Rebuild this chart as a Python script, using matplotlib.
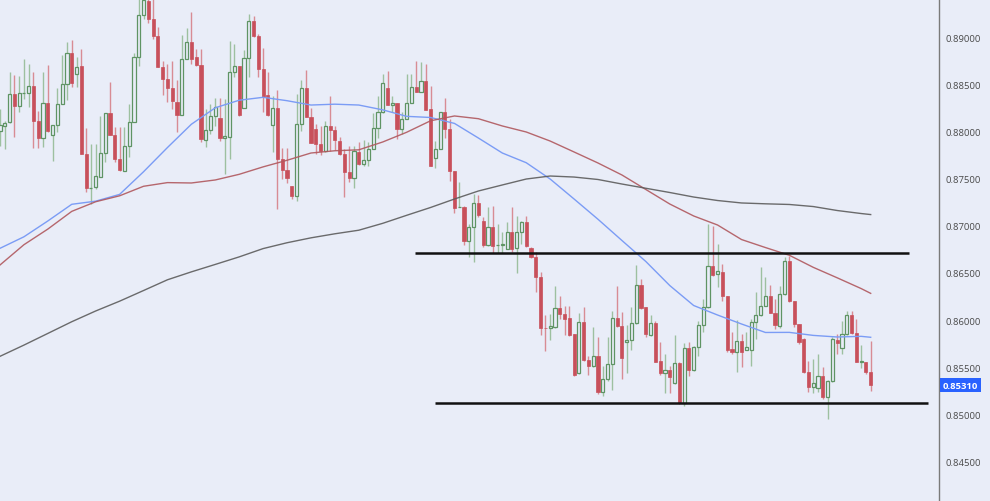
import matplotlib
matplotlib.use("Agg")
import matplotlib.pyplot as plt
import matplotlib.transforms as mtransforms
import numpy as np

# ---------------- data ----------------
opens = [0.88006,0.88059,0.88101,0.88398,0.88271,0.88409,0.88409,0.88483,0.88112,0.87931,
         0.88303,0.87963,0.88069,0.88292,0.88504,0.88833,0.88610,0.88695,0.87761,0.87401,
         0.87411,0.87517,0.87772,0.88197,0.87963,0.87708,0.87581,0.87846,0.88101,0.88791,
         0.89236,0.89385,0.89194,0.89013,0.88685,0.88557,0.88462,0.88313,0.88175,0.88769,
         0.88950,0.88791,0.88706,0.87910,0.88016,0.88165,0.88143,0.87931,0.87942,0.88632,
         0.88695,0.88250,0.88780,0.89173,0.89013,0.88663,0.88387,0.88069,0.88250,0.87708,
         0.87592,0.87422,0.87316,0.88080,0.88462,0.88154,0.88027,0.87868,0.87793,0.88059,
         0.88016,0.87899,0.87761,0.87571,0.87507,0.87783,0.87655,0.87698,0.87815,0.88037,
         0.88207,0.88462,0.88281,0.88303,0.88027,0.88133,0.88303,0.88472,0.88419,0.88536,
         0.88239,0.87719,0.87815,0.88207,0.88027,0.87581,0.87199,0.87199,0.86838,0.86987,
         0.87242,0.87051,0.86796,0.86987,0.86796,0.86796,0.86754,0.86934,0.86764,0.86934,
         0.87040,0.86764,0.86669,0.86456,0.85915,0.85915,0.85926,0.86128,0.86064,0.86021,
         0.85851,0.85438,0.85979,0.85576,0.85512,0.85618,0.85236,0.85374,0.85533,0.86021,
         0.85937,0.85767,0.85788,0.85968,0.86372,0.86138,0.85841,0.85968,0.85565,0.85438,
         0.85470,0.85332,0.85544,0.85120,0.85703,0.85470,0.85714,0.85947,0.86138,0.86573,
         0.86488,0.86509,0.86255,0.85693,0.85661,0.85777,0.85682,0.85682,0.85979,0.86053,
         0.86149,0.86255,0.86074,0.85937,0.86276,0.86626,0.86202,0.85958,0.85799,0.85448,
         0.85289,0.85279,0.85406,0.85183,0.85353,0.85788,0.85703,0.85852,0.86053,0.85862,
         0.85555,0.85555,0.85448]
highs = [0.88239,0.88112,0.88632,0.88600,0.88589,0.88769,0.88716,0.88632,0.88218,0.88632,
         0.88706,0.88072,0.88462,0.88812,0.88950,0.88971,0.88791,0.88876,0.88037,0.87868,
         0.87868,0.88165,0.88200,0.88525,0.88048,0.88048,0.88048,0.88292,0.88833,0.89406,
         0.89500,0.89450,0.89406,0.89109,0.88748,0.88716,0.88748,0.88547,0.89024,0.89098,
         0.89268,0.88876,0.88876,0.88239,0.88292,0.88356,0.88356,0.88345,0.88960,0.88929,
         0.88698,0.88865,0.89247,0.89226,0.89035,0.88886,0.88632,0.88377,0.88441,0.87825,
         0.87825,0.87425,0.88398,0.88547,0.88653,0.88250,0.88080,0.88059,0.88112,0.88377,
         0.88059,0.87942,0.87815,0.87846,0.87846,0.87889,0.87910,0.87889,0.88197,0.88377,
         0.88610,0.88642,0.88377,0.88306,0.88207,0.88610,0.88610,0.88748,0.88738,0.88716,
         0.88483,0.87899,0.88210,0.88356,0.88133,0.87584,0.87464,0.87205,0.87019,0.87337,
         0.87326,0.87093,0.87199,0.87210,0.87019,0.86934,0.87040,0.87199,0.87104,0.87051,
         0.87104,0.86770,0.86722,0.86509,0.86053,0.86064,0.86361,0.86255,0.86149,0.86149,
         0.85855,0.86074,0.86138,0.85618,0.85926,0.85820,0.85512,0.85820,0.86096,0.86361,
         0.86085,0.85947,0.86138,0.86584,0.86435,0.86142,0.86053,0.85990,0.85767,0.85639,
         0.85512,0.85841,0.85550,0.85756,0.85767,0.85720,0.85990,0.86223,0.87019,0.86998,
         0.86807,0.86594,0.86260,0.85873,0.86000,0.85852,0.85873,0.86011,0.86297,0.86563,
         0.86456,0.86372,0.86223,0.86361,0.86669,0.86679,0.86205,0.85960,0.85805,0.85565,
         0.85586,0.85639,0.85502,0.85360,0.85820,0.85852,0.85990,0.86096,0.86096,0.86011,
         0.85735,0.85560,0.85777]
lows = [0.87846,0.87815,0.88090,0.87942,0.88207,0.88345,0.88260,0.87825,0.87825,0.87836,
        0.88000,0.87687,0.87995,0.88290,0.88334,0.88472,0.88472,0.87758,0.87358,0.87231,
        0.87390,0.87515,0.87677,0.87960,0.87677,0.87581,0.87578,0.87730,0.88098,0.88695,
        0.89194,0.89151,0.88982,0.88682,0.88387,0.88313,0.88239,0.87995,0.88170,0.88765,
        0.88716,0.88700,0.87889,0.87836,0.87974,0.88059,0.87899,0.87549,0.87708,0.88578,
        0.88165,0.88245,0.88578,0.89003,0.88578,0.88207,0.88165,0.87783,0.87178,0.87496,
        0.87454,0.87284,0.87263,0.88006,0.88150,0.87875,0.87761,0.87751,0.87783,0.87793,
        0.87804,0.87755,0.87305,0.87464,0.87401,0.87650,0.87634,0.87634,0.87810,0.87931,
        0.88200,0.88278,0.88207,0.87921,0.87974,0.88130,0.88300,0.88415,0.88415,0.88225,
        0.87630,0.87613,0.87810,0.87931,0.87475,0.87135,0.87195,0.86796,0.86669,0.86616,
        0.87093,0.86775,0.86785,0.86711,0.86711,0.86711,0.86750,0.86722,0.86499,0.86807,
        0.86780,0.86660,0.86297,0.85841,0.85671,0.85788,0.85920,0.86011,0.85841,0.85830,
        0.85410,0.85430,0.85570,0.85417,0.85505,0.85215,0.85194,0.85353,0.85258,0.85930,
        0.85374,0.85438,0.85682,0.85960,0.86120,0.85820,0.85835,0.85550,0.85417,0.85226,
        0.85226,0.85325,0.85110,0.85088,0.85406,0.85459,0.85618,0.85873,0.86130,0.86470,
        0.86350,0.86202,0.85661,0.85639,0.85448,0.85502,0.85680,0.85512,0.85799,0.86043,
        0.86145,0.86070,0.85905,0.85915,0.86270,0.86195,0.85926,0.85746,0.85440,0.85236,
        0.85226,0.85236,0.85162,0.84950,0.85345,0.85639,0.85639,0.85845,0.85855,0.85550,
        0.85491,0.85427,0.85247]
closes = [0.88069,0.88090,0.88398,0.88271,0.88409,0.88412,0.88483,0.88112,0.87931,0.88303,
          0.88006,0.88069,0.88292,0.88504,0.88833,0.88515,0.88685,0.87761,0.87401,0.87404,
          0.87528,0.87772,0.88197,0.87963,0.87708,0.87592,0.87846,0.88101,0.88791,0.89236,
          0.89395,0.89194,0.89013,0.88685,0.88557,0.88462,0.88324,0.88175,0.88769,0.88950,
          0.88769,0.88706,0.87921,0.88016,0.88165,0.88260,0.87931,0.87952,0.88632,0.88695,
          0.88175,0.88780,0.89173,0.89013,0.88663,0.88366,0.88175,0.88250,0.87708,0.87592,
          0.87507,0.87316,0.88080,0.88462,0.88154,0.87878,0.87868,0.87793,0.88059,0.88016,
          0.87910,0.87761,0.87571,0.87507,0.87793,0.87655,0.87698,0.87815,0.88037,0.88207,
          0.88515,0.88281,0.88303,0.88027,0.88133,0.88303,0.88472,0.88419,0.88536,0.88228,
          0.87634,0.87815,0.88207,0.88027,0.87581,0.87189,0.87202,0.86838,0.86987,0.87242,
          0.87114,0.86796,0.86987,0.86785,0.86799,0.86807,0.86934,0.86754,0.86934,0.87040,
          0.86785,0.86669,0.86456,0.85915,0.85912,0.85937,0.86128,0.86064,0.86011,0.85841,
          0.85417,0.85979,0.85576,0.85512,0.85618,0.85236,0.85374,0.85533,0.86021,0.85937,
          0.85597,0.85788,0.85968,0.86372,0.86128,0.85852,0.85968,0.85555,0.85438,0.85470,
          0.85395,0.85544,0.85120,0.85703,0.85470,0.85714,0.85947,0.86138,0.86573,0.86478,
          0.86520,0.86255,0.85682,0.85661,0.85777,0.85661,0.85714,0.85979,0.86053,0.86149,
          0.86255,0.86074,0.85947,0.86276,0.86626,0.86202,0.85958,0.85767,0.85448,0.85289,
          0.85332,0.85406,0.85183,0.85353,0.85799,0.85756,0.85852,0.86053,0.85862,0.85555,
          0.85565,0.85448,0.85310]

# moving averages sampled at candle indices
ma_idx = [0,5,10,15,20,25,30,35,40,45,50,55,60,65,70,75,80,85,90,95,100,105,110,115,
          120,125,130,135,140,145,150,155,160,165,170,175,180,182]
ma_fast = [0.86761,0.86883,0.87051,0.87228,0.87261,0.87333,0.87573,0.87830,0.88077,0.88252,
           0.88332,0.88363,0.88327,0.88281,0.88290,0.88281,0.88230,0.88161,0.88149,0.88086,
           0.87931,0.87772,0.87669,0.87496,0.87284,0.87069,0.86844,0.86621,0.86366,0.86154,
           0.86053,0.85958,0.85868,0.85869,0.85837,0.85820,0.85827,0.85817]
ma_mid = [0.86584,0.86799,0.86965,0.87153,0.87255,0.87318,0.87419,0.87458,0.87454,0.87486,
          0.87546,0.87625,0.87695,0.87772,0.87796,0.87806,0.87889,0.87992,0.88114,0.88165,
          0.88136,0.88059,0.87995,0.87899,0.87783,0.87666,0.87539,0.87385,0.87231,0.87104,
          0.87008,0.86854,0.86769,0.86687,0.86559,0.86448,0.86334,0.86283]
ma_slow = [0.85615,0.85734,0.85858,0.85982,0.86096,0.86200,0.86313,0.86427,0.86511,0.86590,
           0.86670,0.86758,0.86820,0.86872,0.86915,0.86953,0.87026,0.87111,0.87194,0.87284,
           0.87369,0.87433,0.87496,0.87528,0.87517,0.87491,0.87443,0.87398,0.87353,0.87305,
           0.87268,0.87242,0.87233,0.87226,0.87204,0.87162,0.87130,0.87119]

resistance_level = 0.86711
resistance_span = (86.75, 190.0)
support_level = 0.85125
support_span = (90.9, 194.0)

tick_values = [0.845, 0.850, 0.855, 0.860, 0.865, 0.870, 0.875, 0.880, 0.885, 0.890]
last_price = 0.85310

# ---------------- style ----------------
BG = "#e9edf8"
UP_EDGE = "#5f9464"
UP_WICK = "#9dc0a0"
DN_BODY = "#c8505b"
DN_WICK = "#d88c94"

fig = plt.figure(figsize=(9.9, 5.02), dpi=100, facecolor=BG)
ax = fig.add_axes([0, 0, 939 / 990, 1])
ax.set_facecolor(BG)

n = len(opens)
x = np.arange(n)
o = np.array(opens); h = np.array(highs); l = np.array(lows); c = np.array(closes)
up = c >= o

# wicks
ax.vlines(x[up], l[up], h[up], color=UP_WICK, lw=1.0, zorder=2)
ax.vlines(x[~up], l[~up], h[~up], color=DN_WICK, lw=1.0, zorder=2)

# bodies
bw = 0.66
minh = 0.00004
hu = np.maximum(c[up] - o[up], minh)
ax.bar(x[up], hu, bottom=o[up], width=bw, facecolor=BG, edgecolor=UP_EDGE, linewidth=0.9, zorder=3)
hd = np.maximum(o[~up] - c[~up], minh)
ax.bar(x[~up], hd, bottom=c[~up], width=bw, facecolor=DN_BODY, edgecolor=DN_BODY, linewidth=0.5, zorder=3)

# moving averages
ax.plot(ma_idx, ma_fast, color="#7b9cf5", lw=1.0, zorder=4)
ax.plot(ma_idx, ma_mid, color="#b0585e", lw=1.0, alpha=0.9, zorder=4)
ax.plot(ma_idx, ma_slow, color="#5c5c5c", lw=1.0, alpha=0.9, zorder=4)

# horizontal levels
ax.hlines(resistance_level, *resistance_span, color="#111111", lw=1.8, zorder=5)
ax.hlines(support_level, *support_span, color="#111111", lw=1.8, zorder=5)

# axes styling
px_per_bar = 4.784
ax.set_xlim(0, 939 / px_per_bar)
ax.set_ylim(0.84080, 0.89406)
for s in ["top", "left", "bottom"]:
    ax.spines[s].set_visible(False)
ax.spines["right"].set_color("#7a7a7a")
ax.spines["right"].set_linewidth(1.0)
ax.set_xticks([])
ax.yaxis.tick_right()
ax.set_yticks(tick_values)
ax.set_yticklabels([f"{v:.5f}" for v in tick_values])
ax.tick_params(axis="y", length=0, pad=5, labelsize=6.8, labelcolor="#4a4a4a")
for lab in ax.get_yticklabels():
    lab.set_fontfamily("Open Sans")

# last price tag
trans = mtransforms.blended_transform_factory(ax.transAxes, ax.transData)
ax.text(1.004, last_price, f"{last_price:.5f}", transform=trans, ha="left", va="center",
        fontsize=6.8, fontweight="bold", color="white", family="Open Sans",
        bbox=dict(boxstyle="square,pad=0.3", fc="#2962ff", ec="none"), clip_on=False, zorder=10)

fig.savefig("out.png", dpi=100, facecolor=BG)
